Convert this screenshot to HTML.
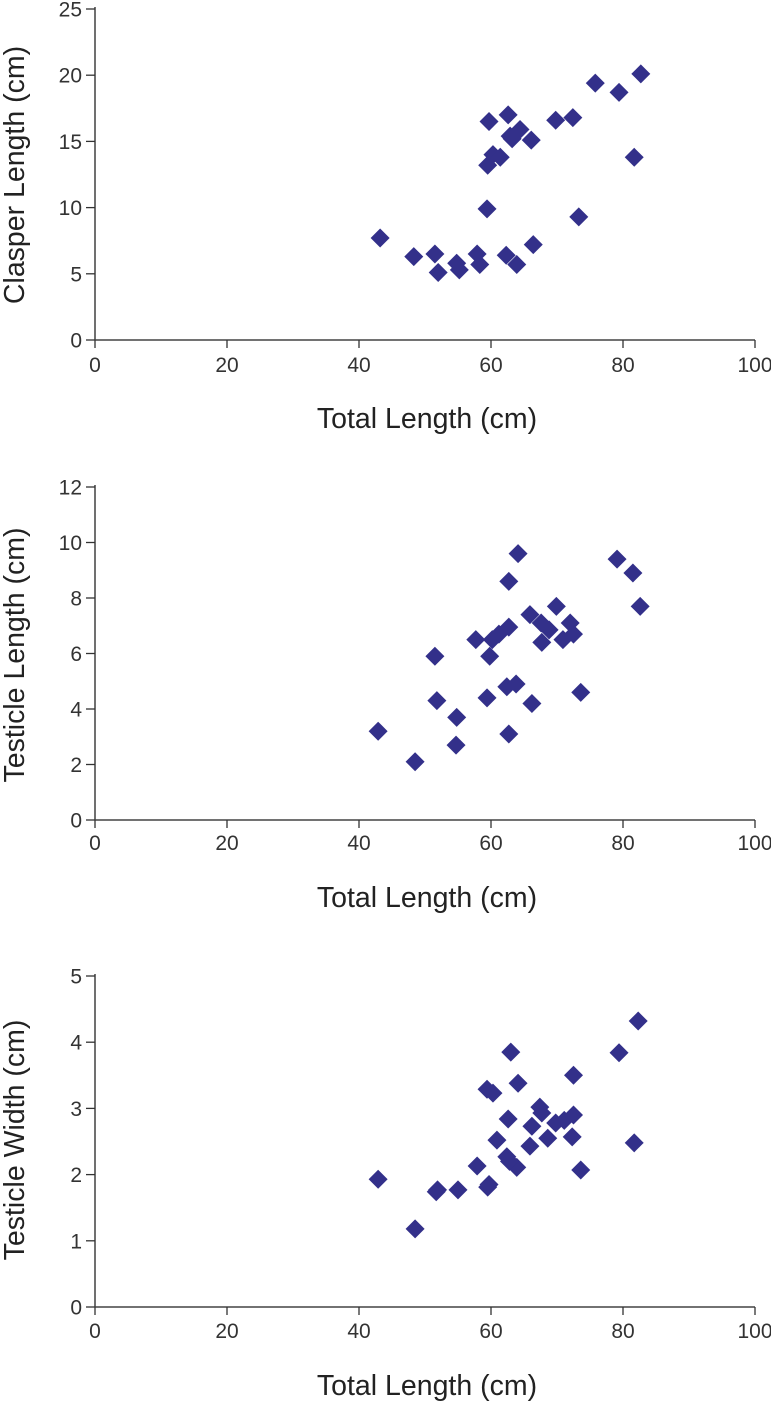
<!DOCTYPE html>
<html><head><meta charset="utf-8"><style>
html,body{margin:0;padding:0;background:#fff;}
svg{display:block;font-family:"Liberation Sans",Arial,sans-serif;}
</style></head><body>
<svg id="chart" width="771" height="1403" viewBox="0 0 771 1403"></svg>
<script>
const xTicks=[0,20,40,60,80,100];
const c1Ticks=[0,5,10,15,20,25];
const c2Ticks=[0,2,4,6,8,10,12];
const c3Ticks=[0,1,2,3,4,5];
const c1X=[43.2,48.3,51.5,52.0,54.8,55.2,57.9,58.3,59.4,59.5,60.3,61.4,59.7,62.6,62.9,63.2,64.4,66.1,62.3,63.9,66.4,69.8,72.4,73.3,75.8,79.4,82.7,81.7];
const c1Y=[7.7,6.3,6.5,5.1,5.8,5.3,6.5,5.7,9.9,13.2,14.0,13.8,16.5,17.0,15.4,15.2,15.9,15.1,6.4,5.7,7.2,16.6,16.8,9.3,19.4,18.7,20.1,13.8];
const c2X=[42.9,48.5,51.5,51.8,54.8,54.7,57.7,59.8,59.4,60.2,61.2,62.7,62.7,64.1,62.7,62.4,63.8,66.2,65.9,67.7,67.6,68.8,69.9,70.9,72.0,72.5,73.6,79.1,81.5,82.6];
const c2Y=[3.2,2.1,5.9,4.3,3.7,2.7,6.5,5.9,4.4,6.5,6.7,6.95,8.6,9.6,3.1,4.8,4.9,4.2,7.4,6.4,7.1,6.85,7.7,6.5,7.1,6.7,4.6,9.4,8.9,7.7];
const c3X=[42.9,48.5,51.7,55.0,57.9,59.5,60.9,60.3,59.4,62.6,62.4,63.0,64.1,63.9,62.8,65.9,66.2,67.4,67.7,68.6,69.8,71.1,72.5,72.3,72.5,73.6,79.4,82.3,81.7,51.9,59.7];
const c3Y=[1.93,1.18,1.74,1.77,2.13,1.81,2.52,3.23,3.29,2.84,2.27,3.85,3.38,2.11,2.2,2.43,2.73,3.02,2.93,2.55,2.78,2.82,2.9,2.57,3.5,2.07,3.84,4.32,2.48,1.77,1.85];
const NS='http://www.w3.org/2000/svg';
const svg=document.getElementById('chart');
function mk(tag,attrs,parent){const e=document.createElementNS(NS,tag);for(const k in attrs)e.setAttribute(k,attrs[k]);(parent||svg).appendChild(e);return e;}
const X0=95,X1=755;
function xs(v){return X0+(v-0)/100*(X1-X0);}
function drawChart(id,top,bottom,yMax,yTicks,xv,yv,title,titleY,xLabY,xTitleY){
  const g=mk('g',{});
  
  
  const ys=v=>bottom-v/yMax*(bottom-top);
  const ya=mk('line',{x1:X0,y1:top-2,x2:X0,y2:bottom,stroke:'#333','stroke-width':1.4},g);
  
  
  const xa=mk('line',{x1:X0,y1:bottom,x2:X1,y2:bottom,stroke:'#444','stroke-width':1.6},g);
  
  
  yTicks.forEach(t=>{
    mk('line',{x1:X0-9,y1:ys(t),x2:X0,y2:ys(t),stroke:'#333','stroke-width':1.3},g);
    const tx=mk('text',{x:X0-13,y:ys(t)+7.5,'text-anchor':'end','font-size':21,fill:'#333'},g);
    tx.textContent=t;
    
    
  });
  xTicks.forEach(t=>{
    mk('line',{x1:xs(t),y1:bottom,x2:xs(t),y2:bottom+8,stroke:'#333','stroke-width':1.3},g);
    const tx=mk('text',{x:xs(t),y:xLabY,'text-anchor':'middle','font-size':21,fill:'#333'},g);
    tx.textContent=t;
    
    
  });
  const yt=mk('text',{x:0,y:0,transform:`translate(24,${titleY}) rotate(-90)`,'text-anchor':'middle','font-size':28.5,fill:'#222'},g);
  yt.textContent=title;
  
  
  const xt=mk('text',{x:427,y:xTitleY,'text-anchor':'middle','font-size':28.5,fill:'#222'},g);
  xt.textContent='Total Length (cm)';
  
  
  xv.forEach((v,i)=>{
    const cx=xs(v),cy=ys(yv[i]),r=9.5;
    const p=mk('polygon',{points:`${cx},${cy-r} ${cx+r},${cy} ${cx},${cy+r} ${cx-r},${cy}`,fill:'#33308a'},g);
    
    
  });
}
drawChart('clasper-chart',9,340,25,c1Ticks,c1X,c1Y,'Clasper Length (cm)',175,372,428);
drawChart('testicle-length-chart',487,820,12,c2Ticks,c2X,c2Y,'Testicle Length (cm)',655,850,907);
drawChart('testicle-width-chart',976,1307,5,c3Ticks,c3X,c3Y,'Testicle Width (cm)',1140,1338,1395);
</script>
</body></html>
